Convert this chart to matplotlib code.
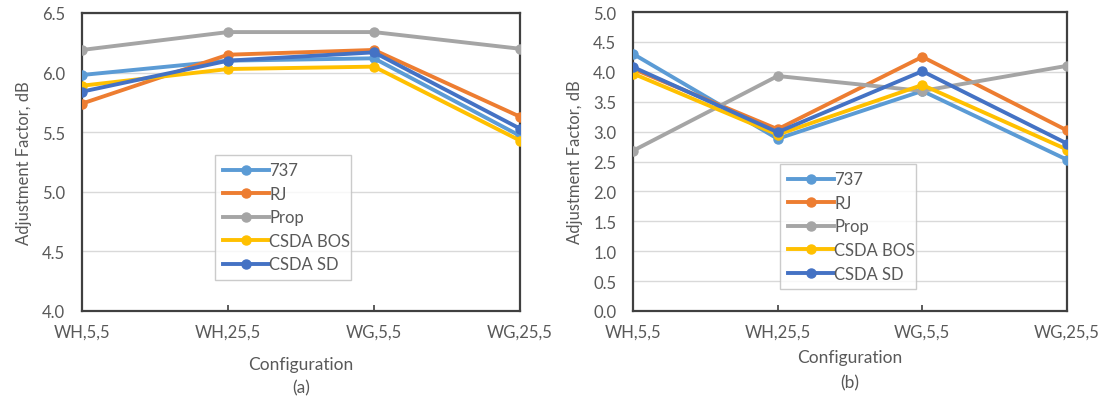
import matplotlib
matplotlib.use("Agg")
import matplotlib.pyplot as plt

plt.rcParams['font.family'] = ['Lato', 'DejaVu Sans']

categories = ["WH,5,5", "WH,25,5", "WG,5,5", "WG,25,5"]
series_names = ["737", "RJ", "Prop", "CSDA BOS", "CSDA SD"]
colors = ["#5B9BD5", "#ED7D31", "#A5A5A5", "#FFC000", "#4472C4"]

# Panel (a)
a_737 = [5.98, 6.10, 6.12, 5.47]
a_rj = [5.74, 6.15, 6.19, 5.63]
a_prop = [6.19, 6.34, 6.34, 6.20]
a_bos = [5.89, 6.03, 6.05, 5.43]
a_sd = [5.84, 6.10, 6.17, 5.53]

# Panel (b)
b_737 = [4.30, 2.88, 3.68, 2.53]
b_rj = [4.05, 3.04, 4.25, 3.02]
b_prop = [2.68, 3.93, 3.68, 4.10]
b_bos = [3.97, 2.95, 3.78, 2.70]
b_sd = [4.08, 2.99, 4.01, 2.80]

a_yticks = [4.0, 4.5, 5.0, 5.5, 6.0, 6.5]
b_yticks = [0.0, 0.5, 1.0, 1.5, 2.0, 2.5, 3.0, 3.5, 4.0, 4.5, 5.0]

W, H = 1102, 402
fig = plt.figure(figsize=(W / 100, H / 100), dpi=100)

txt = "#595959"
FS = 12


def px_axes(x0, y0, x1, y1):
    return fig.add_axes([x0 / W, 1 - y1 / H, (x1 - x0) / W, (y1 - y0) / H])


def draw(ax, data, yticks, legend_box):
    x = list(range(len(categories)))
    for name, vals, c in zip(series_names, data, colors):
        ax.plot(x, vals, color=c, lw=2.8, marker='o', ms=6.5, label=name,
                solid_joinstyle='round', zorder=3)
    ax.set_xlim(0, len(categories) - 1)
    ax.set_ylim(yticks[0], yticks[-1])
    ax.set_yticks(yticks)
    ax.set_yticklabels([f"{v:.1f}" for v in yticks])
    ax.set_xticks(x)
    ax.set_xticklabels(categories)
    ax.grid(axis='y', color='#D9D9D9', lw=1.0, zorder=0)
    ax.set_axisbelow(True)
    for s in ax.spines.values():
        s.set_color('#404040')
        s.set_linewidth(1.6)
    ax.tick_params(axis='y', length=0, pad=12, labelsize=FS, labelcolor=txt)
    ax.tick_params(axis='x', direction='in', length=4, width=1.2, color='#404040',
                   pad=9, labelsize=FS, labelcolor=txt)
    ax.set_ylabel("Adjustment Factor, dB", color=txt, fontsize=FS, labelpad=7)
    leg = ax.legend(loc='lower left', bbox_to_anchor=legend_box,
                    bbox_transform=fig.transFigure, mode='expand',
                    frameon=True, fancybox=False, fontsize=FS,
                    handlelength=2.8, handletextpad=0.0, labelspacing=0.45,
                    borderpad=0.45, borderaxespad=0)
    leg.get_frame().set_edgecolor('#BFBFBF')
    leg.get_frame().set_linewidth(1.0)
    for t in leg.get_texts():
        t.set_color(txt)


ax1 = px_axes(82, 14, 520, 312)
draw(ax1, [a_737, a_rj, a_prop, a_bos, a_sd], a_yticks,
     (215 / W, 1 - 281 / H, 136 / W, 131 / H))
ax2 = px_axes(633, 13, 1067, 312)
draw(ax2, [b_737, b_rj, b_prop, b_bos, b_sd], b_yticks,
     (780 / W, 1 - 290 / H, 136 / W, 130 / H))

fig.text(301 / W, 1 - 365 / H, "Configuration", ha='center', va='center',
         color=txt, fontsize=FS + 0.5)
fig.text(301 / W, 1 - 388 / H, "(a)", ha='center', va='center', color=txt,
         fontsize=FS + 0.5)
fig.text(850 / W, 1 - 358 / H, "Configuration", ha='center', va='center',
         color=txt, fontsize=FS + 0.5)
fig.text(850 / W, 1 - 383 / H, "(b)", ha='center', va='center', color=txt,
         fontsize=FS + 0.5)

fig.savefig("out.png", dpi=100)
